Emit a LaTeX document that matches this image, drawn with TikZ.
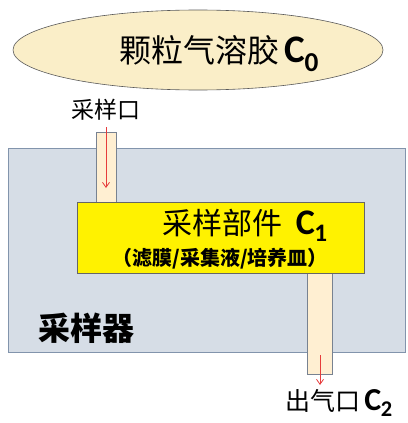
\documentclass[tikz,border=0pt]{standalone}
\usepackage{fontspec}
\setmainfont{Noto Sans CJK SC}
\newfontfamily\cjk{Noto Sans CJK SC}
\newfontfamily\latinC{Carlito}
\usetikzlibrary{shapes.geometric,arrows.meta}
\definecolor{ellfill}{RGB}{250,238,200}
\definecolor{boxfill}{RGB}{214,221,230}
\definecolor{boxline}{RGB}{130,148,172}
\definecolor{tubefill}{RGB}{255,239,210}
\definecolor{tubeline}{RGB}{120,130,145}
\definecolor{arrred}{RGB}{230,60,60}
\tikzset{
  tube/.style={draw=tubeline, fill=tubefill, line width=0.8pt, inner sep=0pt},
  flow/.style={draw=arrred, line width=0.8pt, -{Straight Barb[length=5pt,width=7pt]}},
  lbl/.style={inner sep=0pt, anchor=base}
}
\newcommand{\Cb}[1]{{\latinC\bfseries C\textsubscript{\kern-0.5pt#1}}}
\begin{document}
\begin{tikzpicture}[x=1pt,y=-1pt]
\useasboundingbox (0,0) rectangle (407,423);
% aerosol ellipse
\node[ellipse, draw=gray!70!black, line width=0.6pt, fill=ellfill, minimum width=370pt, minimum height=80pt, inner sep=0pt] (aero) at (198,50) {};
\node[lbl, font=\fontsize{32}{32}\selectfont] (aerot) at (219,62) {颗粒气溶胶\,{\fontsize{39}{39}\selectfont\Cb{0}}};
% sampler body
\node[draw=boxline, fill=boxfill, line width=0.8pt, minimum width=397pt, minimum height=204pt, inner sep=0pt] (body) at (206.5,250) {};
% inlet tube
\node[tube, minimum width=20pt, minimum height=70pt] (inlet) at (106,167) {};
% outlet tube
\node[tube, minimum width=25pt, minimum height=101pt] (outlet) at (319.5,323.5) {};
% sampling element
\node[draw=gray!80!black, fill=yellow, line width=0.8pt, minimum width=287pt, minimum height=71pt, inner sep=0pt] (elem) at (220.5,237.5) {};
\node[lbl, font=\fontsize{30}{30}\selectfont] (elemt) at (245,234) {采样部件\ \ {\fontsize{36}{36}\selectfont\Cb{1}}};
\node[lbl, font=\fontsize{20}{20}\selectfont\bfseries] (elems) at (220,265) {（滤膜/采集液/培养皿）};
% labels
\node[lbl, font=\fontsize{23}{23}\selectfont] (inlbl) at (106,118) {采样口};
\node[lbl, font=\fontsize{32}{32}\selectfont\bfseries] (bodyl) at (86,340) {采样器};
\node[lbl, anchor=base west, font=\fontsize{25}{25}\selectfont] (outl) at (285,410) {\raisebox{0pt}[\height][0pt]{出气口\,{\fontsize{32}{32}\selectfont\Cb{2}}}};
% flow arrows
\coordinate (a1) at (106,127);
\coordinate (a2) at (106,188);
\coordinate (b1) at (320,355);
\coordinate (b2) at (320,385);
\draw[flow] (a1) -- (a2);
\draw[flow] (b1) -- (b2);
\end{tikzpicture}
\end{document}
